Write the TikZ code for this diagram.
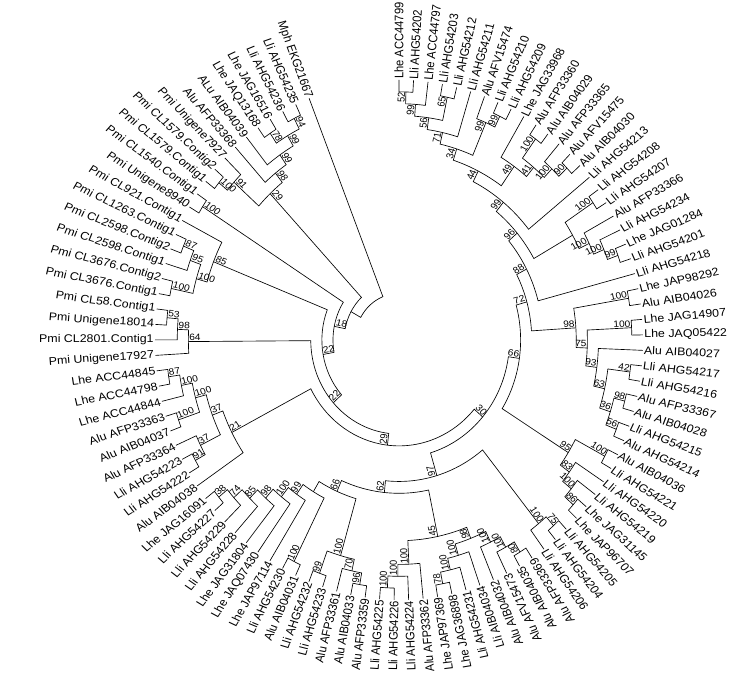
\documentclass[tikz,border=0pt]{standalone}
\usepackage{fontspec}
\setmainfont{Liberation Sans}
\newcommand\TRX{244}
\newcommand\TRY{260}
\newcommand\TDH{0.0456}
\newcommand\TDT{3.418}
\newcommand\TYS{0.9}
\tikzset{
  br/.style={draw=black, line width=0.65pt},
  leaflbl/.style={font=\fontsize{12.4}{14}\selectfont, inner sep=1.2pt},
  bootlbl/.style={font=\fontsize{10.2}{12}\selectfont, inner sep=0.7pt},
}
\makeatletter
\newcommand\tr@rot[1]{%
  \pgfmathsetmacro\tr@p{atan2(\TRY*sin(#1),\TRX*cos(#1))}%
  \pgfmathsetmacro\tr@r{atan2(sin(\tr@p)/\TYS,cos(\tr@p))}%
  \pgfmathtruncatemacro\tr@f{(#1 < -55) ? 1 : 0}%
  \ifnum\tr@f=1 \pgfmathsetmacro\tr@r{\tr@r-180}\fi
}
\newcommand\leafnode[3]{%
  \pgfmathsetmacro\tr@a{90-(#2-1)*\TDT}%
  \expandafter\xdef\csname trA@#1\endcsname{\tr@a}%
  \expandafter\xdef\csname trH@#1\endcsname{0}%
  \expandafter\xdef\csname trS@#1\endcsname{1}%
  \coordinate (#1) at (\tr@a:1);
  \tr@rot{\tr@a}%
  \ifnum\tr@f=1
    \node[leaflbl, yscale=\TYS, rotate=\tr@r, anchor=east] (#1-t) at (#1) {#3};
  \else
    \node[leaflbl, yscale=\TYS, rotate=\tr@r, anchor=west] (#1-t) at (#1) {#3};
  \fi
}
\newcommand\inode[4]{%
  \edef\tr@aa{\csname trA@#3\endcsname}%
  \edef\tr@ab{\csname trA@#4\endcsname}%
  \pgfmathtruncatemacro\tr@h{1+max(\csname trH@#3\endcsname,\csname trH@#4\endcsname)}%
  \pgfmathsetmacro\tr@s{1-\TDH*\tr@h}%
  \pgfmathsetmacro\tr@a{(\tr@aa+\tr@ab)/2}%
  \pgfmathsetmacro\tr@xr{\tr@s*\TRX}%
  \pgfmathsetmacro\tr@yr{\tr@s*\TRY}%
  \expandafter\xdef\csname trA@#1\endcsname{\tr@a}%
  \expandafter\xdef\csname trH@#1\endcsname{\tr@h}%
  \expandafter\xdef\csname trS@#1\endcsname{\tr@s}%
  \coordinate (#1) at (\tr@a:\tr@s);
  \draw[br] (#3) -- (\tr@aa:\tr@s) arc[start angle=\tr@aa, end angle=\tr@ab, x radius=\tr@xr pt, y radius=\tr@yr pt] -- (#4);
  \tr@rot{\tr@a}%
  \ifnum\tr@f=1
    \node[bootlbl, yscale=\TYS, rotate=\tr@r, anchor=south west] (#1-b) at (#1) {#2};
  \else
    \node[bootlbl, yscale=\TYS, rotate=\tr@r, anchor=south east] (#1-b) at (#1) {#2};
  \fi
}
\makeatother
\begin{document}
\begin{tikzpicture}[x=244pt, y=260pt]
\useasboundingbox (-399pt,-348pt) rectangle (356pt,340pt);
% leaves
\leafnode{L1}{1}{Lhe ACC44799}
\leafnode{L2}{2}{Lli AHG54202}
\leafnode{L3}{3}{Lhe ACC44797}
\leafnode{L4}{4}{Lli AHG54203}
\leafnode{L5}{5}{Lli AHG54212}
\leafnode{L6}{6}{Lli AHG54211}
\leafnode{L7}{7}{Alu AFV15474}
\leafnode{L8}{8}{Lli AHG54210}
\leafnode{L9}{9}{Lli AHG54209}
\leafnode{L10}{10}{Lhe JAG33968}
\leafnode{L11}{11}{Alu AFP33360}
\leafnode{L12}{12}{Alu AIB04029}
\leafnode{L13}{13}{Alu AFP33365}
\leafnode{L14}{14}{Alu AFV15475}
\leafnode{L15}{15}{Alu AIB04030}
\leafnode{L16}{16}{Lli AHG54213}
\leafnode{L17}{17}{Lli AHG54208}
\leafnode{L18}{18}{Lli AHG54207}
\leafnode{L19}{19}{Alu AFP33366}
\leafnode{L20}{20}{Lli AHG54234}
\leafnode{L21}{21}{Lhe JAG01284}
\leafnode{L22}{22}{Lli AHG54201}
\leafnode{L23}{23}{Lli AHG54218}
\leafnode{L24}{24}{Lhe JAP98292}
\leafnode{L25}{25}{Alu AIB04026}
\leafnode{L26}{26}{Lhe JAG14907}
\leafnode{L27}{27}{Lhe JAQ05422}
\leafnode{L28}{28}{Alu AIB04027}
\leafnode{L29}{29}{Lli AHG54217}
\leafnode{L30}{30}{Lli AHG54216}
\leafnode{L31}{31}{Alu AFP33367}
\leafnode{L32}{32}{Alu AIB04028}
\leafnode{L33}{33}{Lli AHG54215}
\leafnode{L34}{34}{Alu AHG54214}
\leafnode{L35}{35}{Alu AIB04036}
\leafnode{L36}{36}{Lli AHG54221}
\leafnode{L37}{37}{Lli AHG54220}
\leafnode{L38}{38}{Lli AHG54219}
\leafnode{L39}{39}{Lhe JAG31145}
\leafnode{L40}{40}{Lhe JAP96707}
\leafnode{L41}{41}{Lli AHG54205}
\leafnode{L42}{42}{Lli AHG54204}
\leafnode{L43}{43}{Lli AHG54206}
\leafnode{L44}{44}{Alu AFP33369}
\leafnode{L45}{45}{Alu AIB04035}
\leafnode{L46}{46}{Alu AFV15473}
\leafnode{L47}{47}{Alu AIB04032}
\leafnode{L48}{48}{Lli AIB04034}
\leafnode{L49}{49}{Lli AHG54231}
\leafnode{L50}{50}{Lhe JAG36898}
\leafnode{L51}{51}{Lhe JAP97369}
\leafnode{L52}{52}{Alu AFP33362}
\leafnode{L53}{53}{Lli AHG54224}
\leafnode{L54}{54}{Lli AHG54226}
\leafnode{L55}{55}{Lli AHG54225}
\leafnode{L56}{56}{Alu AFP33359}
\leafnode{L57}{57}{Alu AIB04033}
\leafnode{L58}{58}{Alu AFP33361}
\leafnode{L59}{59}{Lli AHG54233}
\leafnode{L60}{60}{Lli AHG54232}
\leafnode{L61}{61}{Alu AIB04031}
\leafnode{L62}{62}{Lli AHG54230}
\leafnode{L63}{63}{Lhe JAP97114}
\leafnode{L64}{64}{Lhe JAQ07430}
\leafnode{L65}{65}{Lhe JAG31804}
\leafnode{L66}{66}{Lli AHG54228}
\leafnode{L67}{67}{Lli AHG54229}
\leafnode{L68}{68}{Lli AHG54227}
\leafnode{L69}{69}{Lhe JAG16091}
\leafnode{L70}{70}{Alu AIB04038}
\leafnode{L71}{71}{Lli AHG54222}
\leafnode{L72}{72}{Lli AHG54223}
\leafnode{L73}{73}{Alu AFP33364}
\leafnode{L74}{74}{Alu AIB04037}
\leafnode{L75}{75}{Alu AFP33363}
\leafnode{L76}{76}{Lhe ACC44844}
\leafnode{L77}{77}{Lhe ACC44798}
\leafnode{L78}{78}{Lhe ACC44845}
\leafnode{L79}{79}{Pmi Unigene17927}
\leafnode{L80}{80}{Pmi CL2801.Contig1}
\leafnode{L81}{81}{Pmi Unigene18014}
\leafnode{L82}{82}{Pmi CL58.Contig1}
\leafnode{L83}{83}{Pmi CL3676.Contig1}
\leafnode{L84}{84}{Pmi CL3676.Contig2}
\leafnode{L85}{85}{Pmi CL2598.Contig1}
\leafnode{L86}{86}{Pmi CL2598.Contig2}
\leafnode{L87}{87}{Pmi CL1263.Contig1}
\leafnode{L88}{88}{Pmi CL921.Contig1}
\leafnode{L89}{89}{Pmi Unigene8940}
\leafnode{L90}{90}{Pmi CL1540.Contig1}
\leafnode{L91}{91}{Pmi CL1579.Contig1}
\leafnode{L92}{92}{Pmi CL1579.Contig2}
\leafnode{L93}{93}{Pmi Unigene7927}
\leafnode{L94}{94}{Alu AFP33368}
\leafnode{L95}{95}{ALu AIB04039}
\leafnode{L96}{96}{Lhe JAQ13168}
\leafnode{L97}{97}{Lhe JAG16516}
\leafnode{L98}{98}{Lli AHG54236}
\leafnode{L99}{99}{Lli AHG54235}
\leafnode{L100}{100}{Mph EKG21667}
% clade A
\inode{a52}{52}{L1}{L2}
\inode{a99}{99}{a52}{L3}
\inode{a65}{65}{L4}{L5}
\inode{a56}{56}{a99}{a65}
\inode{a71}{71}{a56}{L6}
\inode{a99b}{99}{L8}{L9}
\inode{a99c}{99}{L7}{a99b}
\inode{a34}{34}{a71}{a99c}
\inode{a100}{100}{L11}{L12}
\inode{a90}{90}{L14}{L15}
\inode{a100b}{100}{L13}{a90}
\inode{a41}{41}{a100}{a100b}
\inode{a49}{49}{L10}{a41}
\inode{a44}{44}{a34}{a49}
\inode{a99d}{99}{a44}{L16}
% clade B
\inode{b1}{100}{L17}{L18}
\inode{b2}{99}{L21}{L22}
\inode{b3}{100}{L20}{b2}
\inode{b4}{100}{L19}{b3}
\inode{b5}{}{b1}{b4}
\inode{a96}{96}{a99d}{b5}
\inode{n88}{88}{a96}{L23}
% clade C
\inode{c1}{100}{L24}{L25}
\inode{c2}{100}{L26}{L27}
\inode{c3}{42}{L29}{L30}
\inode{c4}{98}{L31}{L32}
\inode{c5}{56}{L33}{L34}
\inode{c6}{36}{c4}{c5}
\inode{c7}{63}{c3}{c6}
\inode{c8}{93}{L28}{c7}
\inode{c9}{75}{c2}{c8}
\inode{c10}{98}{c1}{c9}
\inode{n72}{72}{n88}{c10}
% clade D
\inode{d1}{100}{L35}{L36}
\inode{d2}{86}{L39}{L40}
\inode{d3}{100}{L38}{d2}
\inode{d4}{83}{L37}{d3}
\inode{d5}{95}{d1}{d4}
\inode{n66}{66}{n72}{d5}
% clades F, E, G
\inode{f1}{75}{L41}{L42}
\inode{f2}{100}{f1}{L43}
\inode{e1}{80}{L44}{L45}
\inode{e2}{100}{e1}{L46}
\inode{e3}{100}{e2}{L47}
\inode{e4}{78}{L50}{L51}
\inode{e5}{100}{L49}{e4}
\inode{e6}{100}{L48}{e5}
\inode{e7}{98}{e3}{e6}
\inode{g1}{100}{L54}{L55}
\inode{g2}{100}{L53}{g1}
\inode{g3}{100}{L52}{g2}
\inode{e45}{45}{e7}{g3}
% clades H, J
\inode{h1}{96}{L56}{L57}
\inode{h2}{70}{h1}{L58}
\inode{h4}{99}{L59}{L60}
\inode{h3}{100}{h2}{h4}
\inode{h5}{100}{L61}{L62}
\inode{j1}{38}{L68}{L69}
\inode{j2}{74}{L67}{j1}
\inode{j3}{85}{L66}{j2}
\inode{j4}{98}{L65}{j3}
\inode{j5}{100}{L64}{j4}
\inode{j6}{99}{L63}{j5}
\inode{j7}{}{h5}{j6}
\inode{h66}{66}{h3}{j7}
\inode{z62}{62}{e45}{h66}
\inode{f97}{97}{f2}{z62}
\inode{n30}{30}{n66}{f97}
% clade K
\inode{k1}{87}{L77}{L78}
\inode{k2}{100}{L76}{k1}
\inode{k3}{100}{L74}{L75}
\inode{k4}{100}{k3}{k2}
\inode{k5}{91}{L71}{L72}
\inode{k6}{37}{k5}{L73}
\inode{k7}{37}{k6}{k4}
\inode{k21}{21}{L70}{k7}
\inode{n29}{29}{n30}{k21}
% Pmi clades
\inode{ma}{53}{L81}{L82}
\inode{mb}{98}{L80}{ma}
\inode{mc}{64}{L79}{mb}
\inode{n22a}{22}{n29}{mc}
\inode{m3}{100}{L83}{L84}
\inode{m1}{87}{L86}{L87}
\inode{m2}{95}{L85}{m1}
\inode{m4}{100}{m3}{m2}
\inode{m5}{85}{m4}{L88}
\inode{n22b}{22}{n22a}{m5}
\inode{q3}{100}{L89}{L90}
\inode{n18}{18}{n22b}{q3}
\inode{q1}{100}{L91}{L92}
\inode{q2}{91}{q1}{L93}
\inode{p1}{94}{L98}{L99}
\inode{p2}{78}{L96}{L97}
\inode{p3}{99}{p2}{p1}
\inode{p4}{99}{L95}{p3}
\inode{p5}{98}{L94}{p4}
\inode{p6}{29}{q2}{p5}
\inode{n1}{}{n18}{p6}
\inode{root}{}{n1}{L100}
\end{tikzpicture}
\end{document}
